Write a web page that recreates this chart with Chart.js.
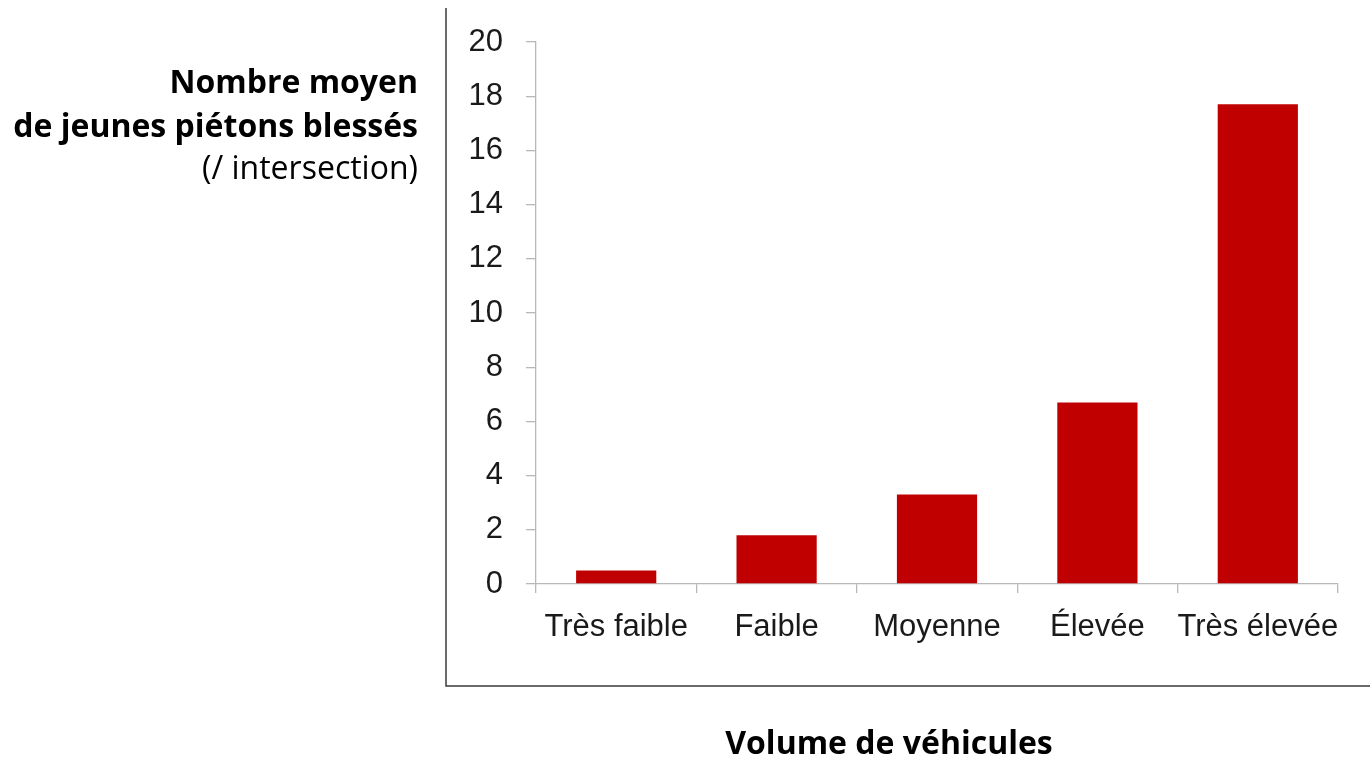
<!DOCTYPE html>
<html>
<head>
<meta charset="utf-8">
<script src="https://cdn.jsdelivr.net/npm/chart.js@4.4.1/dist/chart.umd.min.js"></script>
<style>
  html, body { margin: 0; padding: 0; background: #ffffff; }
  #wrap { position: relative; width: 1370px; height: 757px; }
</style>
</head>
<body>
<div id="wrap"><canvas id="c"></canvas></div>
<script>
const categories = ["Très faible", "Faible", "Moyenne", "Élevée", "Très élevée"];
const injuredMean = [0.5, 1.8, 3.3, 6.7, 17.7];
const yTicks = [0, 2, 4, 6, 8, 10, 12, 14, 16, 18, 20];
const yTitleLines = [
  { text: "Nombre moyen", bold: true },
  { text: "de jeunes piétons blessés", bold: true },
  { text: "(/ intersection)", bold: false }
];
const xTitle = "Volume de véhicules";

const tickFont = "'Liberation Sans', Arial, sans-serif";
const titleFont = "'Open Sans', 'Noto Sans', sans-serif";

const framePlugin = {
  id: 'frameAndTitles',
  afterDraw(chart) {
    const ctx = chart.ctx;
    ctx.save();
    // L-shaped frame
    ctx.strokeStyle = '#3a3a3a';
    ctx.lineWidth = 1.5;
    ctx.beginPath();
    ctx.moveTo(446, 8);
    ctx.lineTo(446, 686);
    ctx.lineTo(1370, 686);
    ctx.stroke();
    // left title
    ctx.fillStyle = '#000000';
    ctx.textAlign = 'right';
    ctx.textBaseline = 'alphabetic';
    const baselines = [93, 137, 179];
    yTitleLines.forEach((l, i) => {
      ctx.font = (l.bold ? 'bold ' : '') + '32px ' + titleFont;
      ctx.fillText(l.text, 418, baselines[i]);
    });
    // bottom title
    ctx.textAlign = 'center';
    ctx.font = 'bold 32px ' + titleFont;
    ctx.fillText(xTitle, 889, 754);
    ctx.restore();
  }
};

new Chart(document.getElementById('c'), {
  type: 'bar',
  data: {
    labels: categories,
    datasets: [{
      data: injuredMean,
      backgroundColor: '#C00000',
      borderWidth: 0,
      barPercentage: 0.5,
      categoryPercentage: 1.0
    }]
  },
  options: {
    responsive: true,
    maintainAspectRatio: false,
    animation: false,
    events: [],
    layout: { padding: { left: 446, right: 32, top: 42, bottom: 73 } },
    plugins: { legend: { display: false }, tooltip: { enabled: false }, title: { display: false } },
    scales: {
      x: {
        offset: true,
        grid: { display: true, offset: true, drawOnChartArea: false, drawTicks: true, tickLength: 9, color: '#b8b8b8', lineWidth: 1.3 },
        border: { display: true, color: '#b8b8b8', width: 1.3 },
        ticks: { color: '#1a1a1a', font: { family: tickFont, size: 31 }, padding: 16, maxRotation: 0, autoSkip: false },
        afterFit(scale) { scale.height = 100; }
      },
      y: {
        min: 0, max: 20,
        afterBuildTicks(scale) { scale.ticks = yTicks.map(v => ({ value: v })); },
        grid: { display: true, drawOnChartArea: false, drawTicks: true, tickLength: 10, color: '#b8b8b8', lineWidth: 1.3 },
        border: { display: true, color: '#b8b8b8', width: 1.3 },
        ticks: { color: '#1a1a1a', font: { family: tickFont, size: 31 }, padding: 23 },
        afterFit(scale) { scale.width = 90; }
      }
    }
  },
  plugins: [framePlugin]
});
</script>
</body>
</html>
